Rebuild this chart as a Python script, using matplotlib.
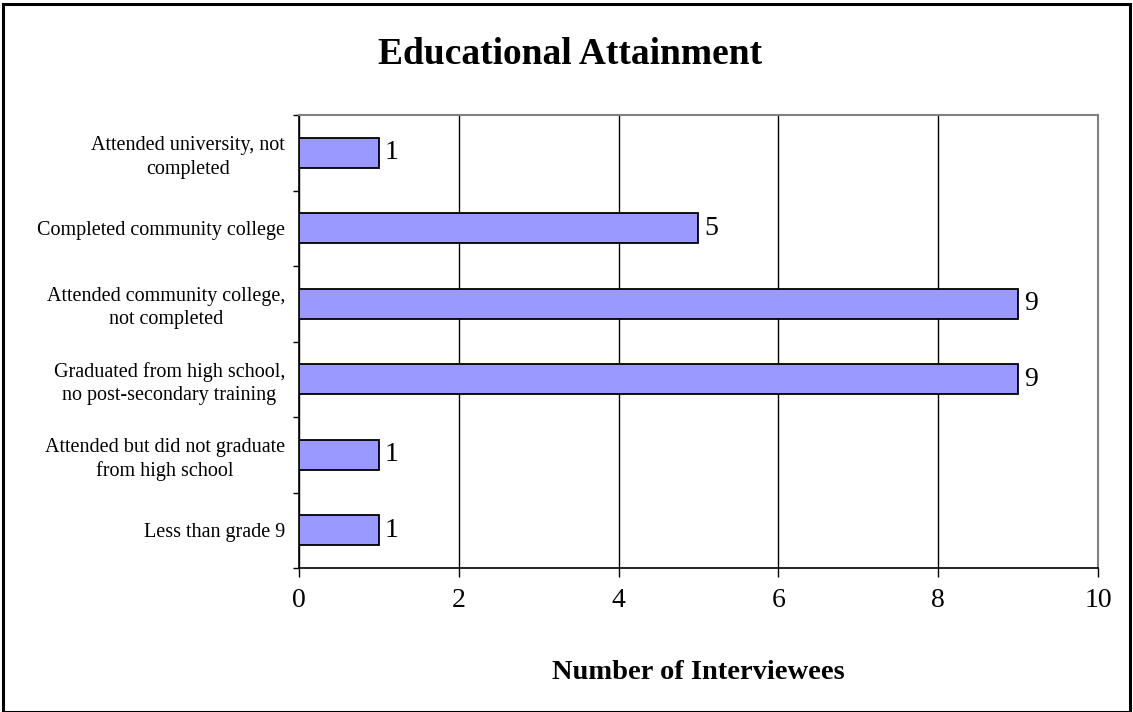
import numpy as np
import matplotlib
matplotlib.use("Agg")
import matplotlib.pyplot as plt
from matplotlib.patches import Rectangle

# data (bottom to top, as drawn)
categories = [
    "Less than grade 9",
    "Attended but did not graduate\nfrom high school",
    "Graduated from high school,\nno post-secondary training",
    "Attended community college,\nnot completed",
    "Completed community college",
    "Attended university, not\ncompleted",
]
counts = [1, 1, 9, 9, 5, 1]
xticks = [0, 2, 4, 6, 8, 10]

plt.rcParams['font.family'] = ['Liberation Serif', 'DejaVu Serif']

fig = plt.figure(figsize=(11.33, 7.12), dpi=100)
ax = fig.add_axes([0.2639, 0.2022, 0.7052, 0.6362])

y = np.arange(len(categories))
ax.barh(y, counts, height=0.4, color='#9999FF', edgecolor='black', linewidth=1.3, zorder=3)
for yi, v in zip(y, counts):
    ax.annotate(str(v), (v, yi), xytext=(4, 0), textcoords='offset points',
                va='center', ha='left', fontsize=20)

ax.set_xlim(0, 10)
ax.set_ylim(-0.5, len(categories) - 0.5)
ax.set_xticks(xticks)
ax.set_xticklabels([str(t) for t in xticks], fontsize=20)
ax.tick_params(axis='x', length=6.5, width=1, pad=8, direction='out')

ax.set_yticks(y)
ax.set_yticklabels(categories, fontsize=14.5)
for lbl in ax.get_yticklabels():
    lbl.set_multialignment('center')
    lbl.set_linespacing(1.3)
ax.tick_params(axis='y', which='major', length=0, pad=10)
ax.set_yticks(np.arange(-0.5, len(categories)), minor=True)
ax.tick_params(axis='y', which='minor', length=4.5, width=1, direction='out')

ax.grid(axis='x', color='black', linewidth=1, zorder=0)
ax.set_axisbelow(True)
for s in ['left', 'bottom']:
    ax.spines[s].set_color('black')
    ax.spines[s].set_linewidth(1.2)
for s in ['top', 'right']:
    ax.spines[s].set_color('#808080')
    ax.spines[s].set_linewidth(1.5)

ax.set_xlabel('Number of Interviewees', fontsize=20.5, fontweight='bold', labelpad=34)
fig.suptitle('Educational Attainment', fontsize=27, fontweight='bold', x=0.503, y=0.948)

# outer chart border
fig.patches.append(Rectangle((0.003, 0.0), 0.994, 0.995, transform=fig.transFigure,
                             fill=False, edgecolor='black', linewidth=2.2))

fig.savefig('out.png', dpi=100)
